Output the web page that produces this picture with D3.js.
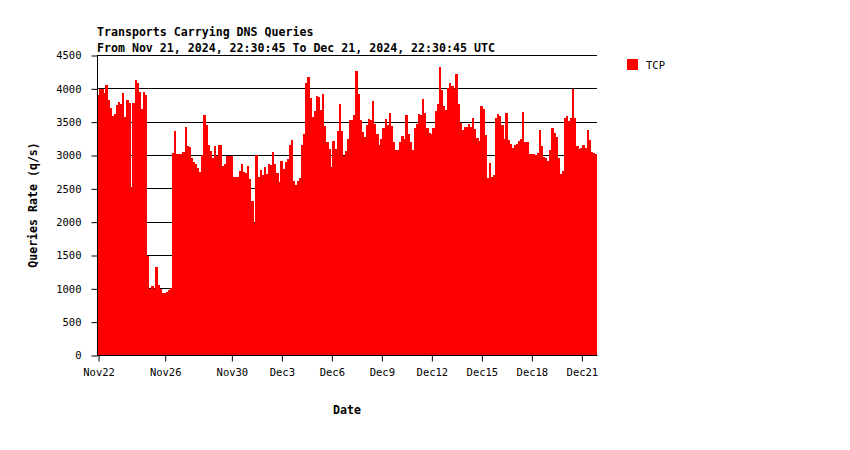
<!DOCTYPE html>
<html>
<head>
<meta charset="utf-8">
<script src="https://cdn.jsdelivr.net/npm/d3@7/dist/d3.min.js"></script>
<style>
  html, body { margin: 0; padding: 0; background: #fff; }
  svg { display: block; }
</style>
</head>
<body>
<svg id="chart" width="850" height="450"></svg>
<script>
// ---- data ----
const titleLine1 = "Transports Carrying DNS Queries";
const titleLine2 = "From Nov 21, 2024, 22:30:45 To Dec 21, 2024, 22:30:45 UTC";
const seriesName = "TCP";
const startTime = Date.UTC(2024, 10, 21, 22, 30, 45);
const endTime = Date.UTC(2024, 11, 21, 22, 30, 45);
const binHours = 3;
const yTicks = [0, 500, 1000, 1500, 2000, 2500, 3000, 3500, 4000, 4500];
const xTickDates = [
  Date.UTC(2024, 10, 22), Date.UTC(2024, 10, 26), Date.UTC(2024, 10, 30),
  Date.UTC(2024, 11, 3), Date.UTC(2024, 11, 6), Date.UTC(2024, 11, 9),
  Date.UTC(2024, 11, 12), Date.UTC(2024, 11, 15), Date.UTC(2024, 11, 18),
  Date.UTC(2024, 11, 21)
];
const tcpValues = [
  3900, 3985, 3985, 3935, 4050, 3825, 3710, 3585, 3615, 3750, 3795, 3760,
  3935, 3570, 3825, 3780, 2520, 3780, 4125, 4085, 3950, 3690, 3940, 3900,
  1490, 990, 1035, 990, 1320, 1050, 990, 925, 935, 940, 975, 1005,
  3030, 3360, 3020, 3020, 3020, 3045, 3420, 3135, 3120, 2955, 2895, 2870,
  2805, 2745, 2995, 3600, 3450, 3145, 3060, 2960, 3130, 2990, 3150,
  3145, 2835, 2865, 2990, 2990, 2990, 2670, 2670, 2670, 2760, 2865, 2745,
  2735, 2835, 2640, 2310, 1975, 2995, 2670, 2775, 2700, 2820, 2715, 2865,
  2850, 3045, 2865, 2730, 2595, 2910, 2790, 2895, 2940, 3150, 3225, 2610,
  2550, 2610, 2655, 3150, 3315, 4080, 4170, 3855, 3570, 3660, 3885, 3870,
  3675, 3915, 3435, 3195, 3090, 2820, 3210, 3090, 3360, 3765,
  3360, 2985, 3060, 3240, 3525, 3525, 3600, 4260, 3915, 3525, 3345, 3270,
  3450, 3540, 3525, 3810, 3465, 3315, 3150, 3240, 3405, 3540, 3450, 3630,
  3435, 3195, 3075, 3075, 3195, 3285, 3240, 3600, 3315, 3195, 3075, 3405,
  3465, 3615, 3600, 3840, 3630, 3405, 3330, 3315, 3405, 3660, 3765, 4320,
  3975, 3735, 3675, 4005, 4080, 4035, 3990, 4215, 3765,
  3480, 3375, 3420, 3420, 3465, 3420, 3555, 3390, 3255, 3210, 3735, 3690,
  3300, 2655, 2880, 2670, 2700, 3555, 3615, 3585, 3450, 3240, 3630,
  3225, 3165, 3105, 3150, 3165, 3210, 3240,
  3645, 3195, 3195, 3010, 3010, 3015, 3000, 3030, 3375, 3135, 2970, 2955,
  2910, 3075, 3405, 3330, 3270, 2955, 2720, 2760, 3555, 3585, 3510, 3555,
  3990, 3555, 3135, 3090, 3105, 3150, 3105, 3375, 3225, 3040, 3030, 3015
];

// ---- chart ----
const svg = d3.select("#chart");
const plot = { left: 97, right: 597, top: 55, bottom: 355 };
const binMs = binHours * 3600 * 1000;
const monoFont = '"DejaVu Sans Mono", "Liberation Mono", monospace';

const x = d3.scaleUtc().domain([new Date(startTime), new Date(endTime)]).range([plot.left, plot.right]);
const y = d3.scaleLinear().domain([0, 4500]).range([plot.bottom, plot.top]);

const bins = tcpValues.map((v, i) => ({ t0: startTime + i * binMs, t1: startTime + (i + 1) * binMs, v }));

// gridlines (behind bars)
svg.append("g").selectAll("line")
  .data(yTicks.filter(d => d > 0))
  .join("line")
  .attr("x1", plot.left).attr("x2", plot.right)
  .attr("y1", d => Math.round(y(d)) + 0.5).attr("y2", d => Math.round(y(d)) + 0.5)
  .attr("stroke", "#000").attr("stroke-width", 1);

// bars
svg.append("g").attr("shape-rendering", "crispEdges").selectAll("rect")
  .data(bins)
  .join("rect")
  .attr("x", d => x(new Date(d.t0)))
  .attr("width", d => Math.min(x(new Date(d.t1)), plot.right) - x(new Date(d.t0)) + 0.3)
  .attr("y", d => y(d.v))
  .attr("height", d => y(0) - y(d.v))
  .attr("fill", "#ff0000");

// y axis
const yAxis = d3.axisLeft(y).tickValues(yTicks).tickSize(6).tickPadding(10).tickFormat(d3.format("d"));
const gy = svg.append("g").attr("transform", `translate(${plot.left + 0.5},0.5)`).call(yAxis);
gy.select(".domain").attr("d", `M0,${plot.top - 0.5}V${plot.bottom - 0.5}`).attr("stroke", "#000");
gy.selectAll(".tick line").attr("stroke", "#000");
gy.selectAll(".tick text").attr("font-size", "10.5px").attr("fill", "#000")
  .style("font-family", monoFont);

// x axis
const xAxis = d3.axisBottom(x).tickValues(xTickDates.map(d => new Date(d))).tickSize(6).tickPadding(7)
  .tickFormat(d3.utcFormat("%b%-d"));
const gx = svg.append("g").attr("transform", `translate(0.5,${plot.bottom + 0.5})`).call(xAxis);
gx.select(".domain").attr("d", `M${plot.left - 0.5},0H${plot.right}`).attr("stroke", "#000");
gx.selectAll(".tick line").attr("stroke", "#000");
gx.selectAll(".tick text").attr("font-size", "10.5px").attr("fill", "#000")
  .style("font-family", monoFont);

// titles
svg.append("text").attr("x", 97).attr("y", 36).text(titleLine1)
  .style("font-family", monoFont).style("font-weight", "bold").style("font-size", "11.6px");
svg.append("text").attr("x", 97).attr("y", 51.5).text(titleLine2)
  .style("font-family", monoFont).style("font-weight", "bold").style("font-size", "11.6px");

// axis titles
svg.append("text").attr("x", 347).attr("y", 414).attr("text-anchor", "middle").text("Date")
  .style("font-family", monoFont).style("font-weight", "bold").style("font-size", "11.6px");
svg.append("text").attr("transform", "translate(37,205) rotate(-90)").attr("text-anchor", "middle")
  .text("Queries Rate (q/s)")
  .style("font-family", monoFont).style("font-weight", "bold").style("font-size", "11.6px");

// legend
const legend = svg.append("g").attr("transform", "translate(627,59)");
legend.append("rect").attr("width", 11).attr("height", 11).attr("fill", "#ff0000");
legend.append("text").attr("x", 19).attr("y", 10).text(seriesName)
  .style("font-family", monoFont).style("font-size", "10.5px");
</script>
</body>
</html>
